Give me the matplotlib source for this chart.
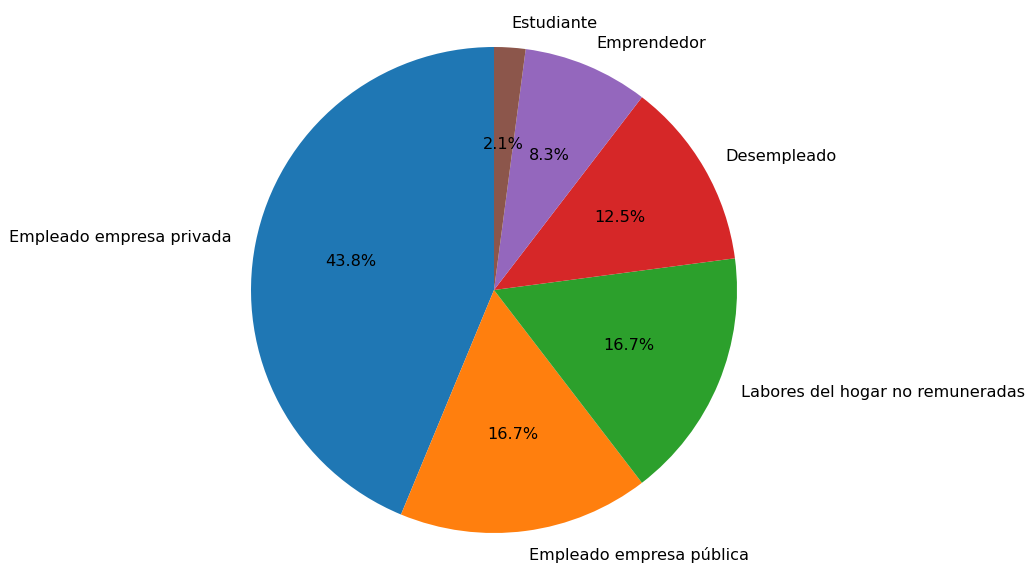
import matplotlib
matplotlib.use('Agg')
import matplotlib.pyplot as plt

# situacion laboral de los encuestados
categorias = ['Empleado empresa privada', 'Empleado empresa pública',
              'Labores del hogar no remuneradas', 'Desempleado',
              'Emprendedor', 'Estudiante']
conteos = [21, 8, 8, 6, 4, 1]

fig = plt.figure(figsize=(10.26, 5.65), dpi=100)
ax = fig.add_axes([0, 0, 1, 1])

ax.pie(conteos, labels=categorias, autopct='%1.1f%%', startangle=90,
       textprops={'fontsize': 11.6})

# ubicar el circulo igual que en la imagen original
r = 243
cx, cy = 494, 565 - 290
ax.set_xlim(-cx / r, (1026 - cx) / r)
ax.set_ylim(-cy / r, (565 - cy) / r)
ax.set_aspect('auto')
ax.axis('off')

fig.savefig('out.png', dpi=100)
